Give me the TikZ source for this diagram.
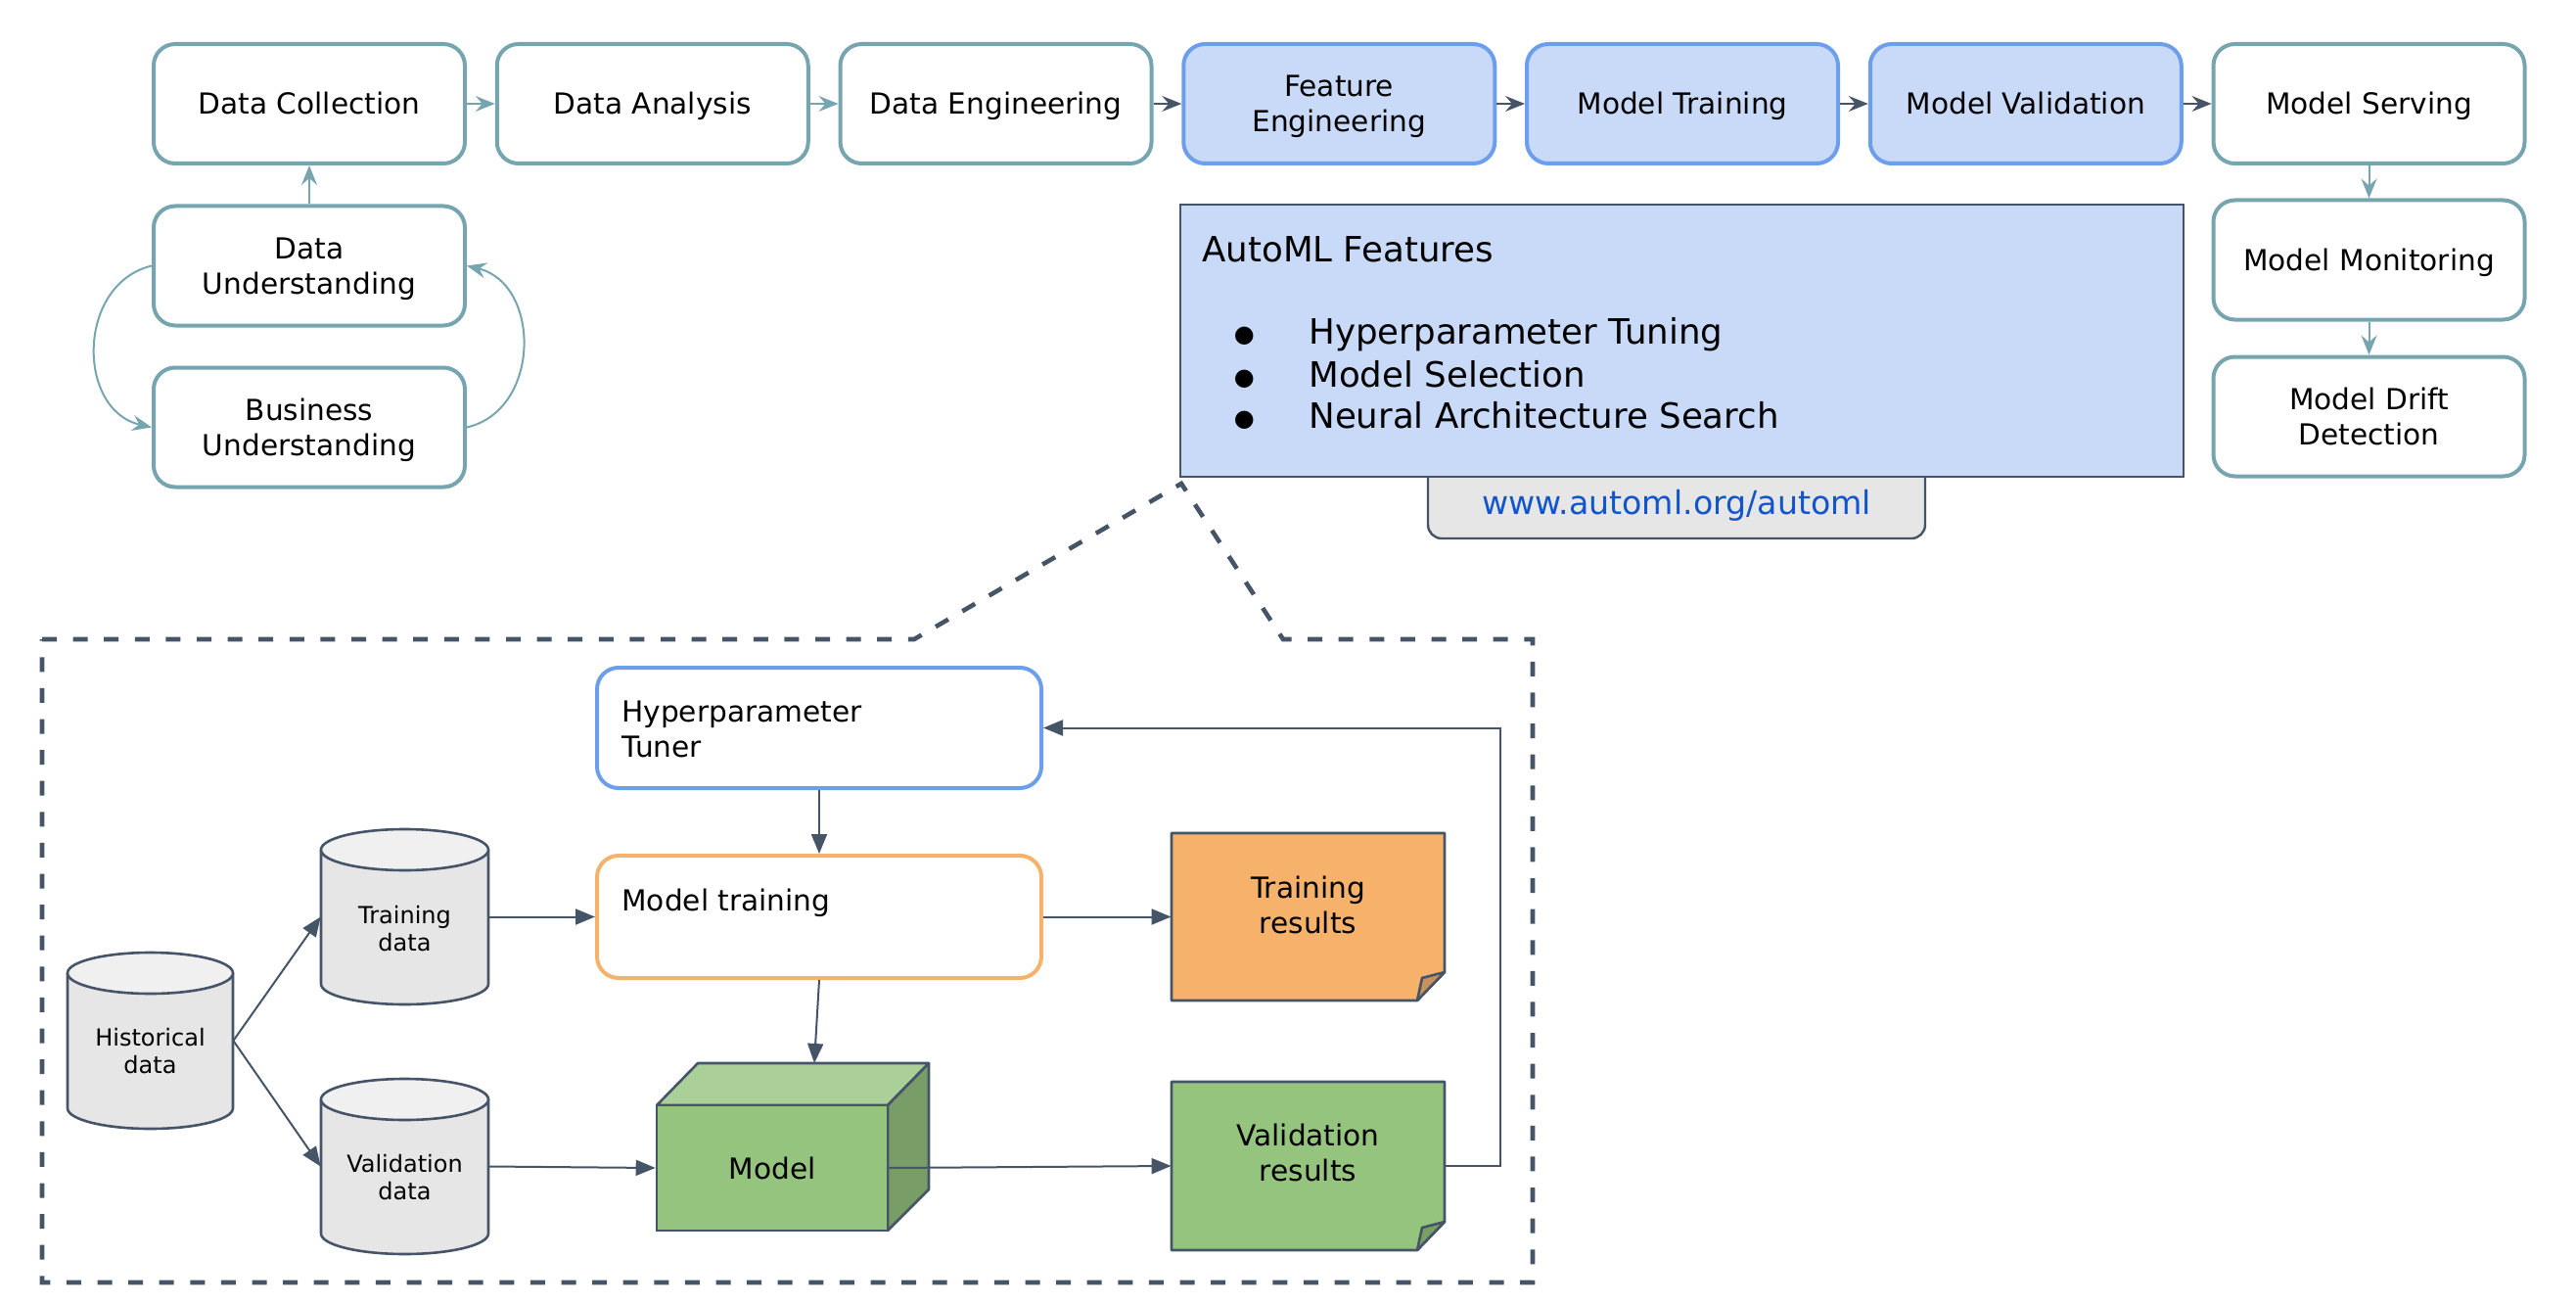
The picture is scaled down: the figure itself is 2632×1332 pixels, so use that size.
\documentclass[tikz,border=0pt]{standalone}
\usepackage{fontspec}
\setmainfont{DejaVu Sans}
\usetikzlibrary{arrows.meta}
\definecolor{cteal}{HTML}{76A5AF}
\definecolor{cdark}{HTML}{465468}
\definecolor{cblue}{HTML}{6D9EEB}
\definecolor{cbluefill}{HTML}{C9DAF8}
\definecolor{corange}{HTML}{F6B26B}
\definecolor{cfoldorange}{HTML}{C8925A}
\definecolor{cgreen}{HTML}{95C47E}
\definecolor{cgreentop}{HTML}{ABCF98}
\definecolor{cgreendark}{HTML}{799D66}
\definecolor{cfoldgreen}{HTML}{77A062}
\definecolor{cgray}{HTML}{E6E6E6}
\definecolor{cgraytop}{HTML}{F0F0F0}
\definecolor{clink}{HTML}{1155CC}
\newcommand{\mainfs}{\fontsize{14.8}{18}\selectfont}
\newcommand{\bigfs}{\fontsize{17.8}{21.5}\selectfont}
\newcommand{\smallfs}{\fontsize{12}{14}\selectfont}
\newcommand{\ls}{\rule[-3.6pt]{0pt}{18pt}}
\newcommand{\mybul}{\makebox[32pt][c]{\raisebox{0.8pt}{\fontsize{12}{12}\selectfont ●}}\hspace*{17pt}}
% cylinder: L T R B
\newcommand{\mycyl}[4]{%
  \pgfmathsetmacro{\cyx}{(#1+#3)/2}%
  \pgfmathsetmacro{\cyrx}{(#3-#1)/2}%
  \pgfmathsetmacro{\cyrxpt}{(#3-#1)/4}%
  \pgfmathsetmacro{\cyt}{#2+21}%
  \pgfmathsetmacro{\cyb}{#4-21}%
  \pgfmathsetmacro{\cyk}{0.5523*\cyrx}%
  \filldraw[shapeline, fill=cgray] (#1,\cyt) -- (#1,\cyb) .. controls (#1,\cyb+11.6) and (\cyx-\cyk,#4) .. (\cyx,#4) .. controls (\cyx+\cyk,#4) and (#3,\cyb+11.6) .. (#3,\cyb) -- (#3,\cyt) -- cycle;
  \filldraw[shapeline, fill=cgraytop] (\cyx,\cyt) ellipse [x radius=\cyrxpt pt, y radius=10.5pt];
}
% note: L T R B fill foldfill
\newcommand{\mynote}[6]{%
  \filldraw[shapeline, fill=#5] (#1,#2) -- (#3,#2) -- (#3,#4-29) -- (#3-28,#4) -- (#1,#4) -- cycle;
  \filldraw[shapeline, fill=#6] (#3,#4-29) -- (#3-23,#4-23) -- (#3-28,#4) -- cycle;
}
\begin{document}
\begin{tikzpicture}[x=0.5pt,y=-0.5pt,
  box/.style={draw=cteal, line width=2pt, rounded corners=11pt, fill=white,
    minimum width=159pt, minimum height=61pt, inner sep=2pt, align=center, font=\mainfs},
  bluebox/.style={box, draw=cblue, fill=cbluefill},
  shapeline/.style={draw=cdark, line width=1.3pt, line join=round},
  tarrow/.style={draw=cteal, line width=1pt, -{Stealth[length=10pt,width=8pt,inset=3.5pt]}},
  darrow/.style={draw=cdark, line width=1pt, -{Stealth[length=10pt,width=8pt,inset=3.5pt]}},
  larrow/.style={draw=cdark, line width=1pt, -{Triangle[length=10pt,width=8pt]}},
  txt/.style={inner sep=0, font=\mainfs, align=center},
  anchorbox/.style={inner sep=0, draw=none},
  item/.style={anchor=mid west, inner sep=0, font=\bigfs},
]
\useasboundingbox (0,0) rectangle (2632,1332);

% ---------- top row ----------
\node[box] (dc) at (316,106) {Data Collection\ls};
\node[box] (da) at (666.75,106) {Data Analysis\ls};
\node[box] (de) at (1017.5,106) {Data Engineering\ls};
\node[bluebox] (fe) at (1368.25,106) {Feature\ls\\Engineering\ls};
\node[bluebox] (mt) at (1719,106) {Model Training\ls};
\node[bluebox] (mv) at (2069.75,106) {Model Validation\ls};
\node[box] (ms) at (2420.5,106) {Model Serving\ls};
\node[box] (du) at (316,271.5) {Data\ls\\Understanding\ls};
\node[box] (bu) at (316,436.5) {Business\ls\\Understanding\ls};
\node[box] (mm) at (2420.5,265.5) {Model Monitoring\ls};
\node[box] (md) at (2420.5,425.5) {Model Drift\ls\\Detection\ls};

\draw[tarrow] (dc) -- (da);
\draw[tarrow] (da) -- (de);
\draw[darrow] (de) -- (fe);
\draw[darrow] (fe) -- (mt);
\draw[darrow] (mt) -- (mv);
\draw[darrow] (mv) -- (ms);
\draw[tarrow] (ms) -- (mm);
\draw[tarrow] (mm) -- (md);
\draw[tarrow] (du) -- (dc);
\draw[tarrow] (du.west) .. controls (78,290) and (78,419) .. (bu.west);
\draw[tarrow] (bu.east) .. controls (553,419) and (553,290) .. (du.east);

% ---------- dashed callout ----------
\draw[cdark, line width=2.3pt, dash pattern=on 7.5pt off 8.3pt, line join=miter]
  (43,653) -- (934,653) -- (1207,494) -- (1311,653) -- (1566,653) -- (1566,1310) -- (43,1310) -- cycle;

% ---------- AutoML ----------
\node[draw=cdark, line width=1.2pt, fill=cgray, rounded corners=7pt,
  minimum width=254pt, minimum height=55pt, inner sep=0] (urlbox) at (1713,495) {};
\node[draw=cdark, line width=1.2pt, fill=cbluefill, minimum width=512.5pt,
  minimum height=139pt, inner sep=0] (automl) at (1718.5,348) {};
\node[item] (amt) at (1228,262) {AutoML Features};
\node[item] (i1) at (1239,346) {\mybul Hyperparameter Tuning};
\node[item] (i2) at (1239,390) {\mybul Model Selection};
\node[item] (i3) at (1239,432) {\mybul Neural Architecture Search};
\node[anchor=mid, inner sep=0, font=\fontsize{16.6}{20}\selectfont, text=clink] (url) at (1713,520) {www.automl.org/automl};

% ---------- lower boxes ----------
\node[box, draw=cblue, minimum width=227pt, minimum height=61.5pt] (ht) at (837,743.5) {};
\node[txt, anchor=west, align=left] (htt) at (635,745) {Hyperparameter\\Tuner};
\node[box, draw=corange, minimum width=227pt, minimum height=62.5pt] (mtb) at (837,936.5) {};
\node[txt, anchor=mid west] (mtt) at (635,925) {Model training};

% cylinders
\mycyl{69}{973}{238}{1153}
\node[anchorbox, minimum width=84.5pt, minimum height=90pt] (hd) at (153.5,1063) {};
\node[txt, font=\smallfs] (hdt) at (153.5,1074) {Historical\\data};
\mycyl{328}{847}{499}{1026}
\node[anchorbox, minimum width=85.5pt, minimum height=89.5pt] (td) at (413.5,936.5) {};
\node[txt, font=\smallfs] (tdt) at (413.5,949) {Training\\data};
\mycyl{328}{1102}{499}{1281}
\node[anchorbox, minimum width=85.5pt, minimum height=89.5pt] (vd) at (413.5,1191.5) {};
\node[txt, font=\smallfs] (vdt) at (413.5,1203) {Validation\\data};

% notes
\mynote{1197}{851}{1476}{1022}{corange}{cfoldorange}
\node[anchorbox, minimum width=139.5pt, minimum height=85.5pt] (tr) at (1336.5,936.5) {};
\node[txt] (trt) at (1336.5,924) {Training\\results};
\mynote{1197}{1105}{1476}{1277}{cgreen}{cfoldgreen}
\node[anchorbox, minimum width=139.5pt, minimum height=86pt] (vr) at (1336.5,1191) {};
\node[txt] (vrt) at (1336.5,1177.5) {Validation\\results};

% model cube
\filldraw[shapeline, fill=cgreentop] (671,1129) -- (713,1086) -- (949,1086) -- (907,1129) -- cycle;
\filldraw[shapeline, fill=cgreendark] (907,1129) -- (949,1086) -- (949,1215) -- (907,1257) -- cycle;
\node[draw=cdark, line width=1.3pt, fill=cgreen, minimum width=118pt, minimum height=64pt,
  inner sep=0, font=\mainfs] (model) at (789,1193) {Model};
\coordinate (mtop) at (832,1086);
\coordinate (fb) at (1533,743.5);

% connectors
\draw[larrow] (hd.east) -- (td.west);
\draw[larrow] (hd.east) -- (vd.west);
\draw[larrow] (td.east) -- (mtb.west);
\draw[larrow] (vd.east) -- (model.west);
\draw[larrow] (ht.south) -- (mtb.north);
\draw[larrow] (mtb.south) -- (mtop);
\draw[larrow] (mtb.east) -- (tr.west);
\draw[larrow] (model.east) -- (vr.west);
\draw[larrow] (vr.east) -| (fb) -- (ht.east);
\end{tikzpicture}
\end{document}
